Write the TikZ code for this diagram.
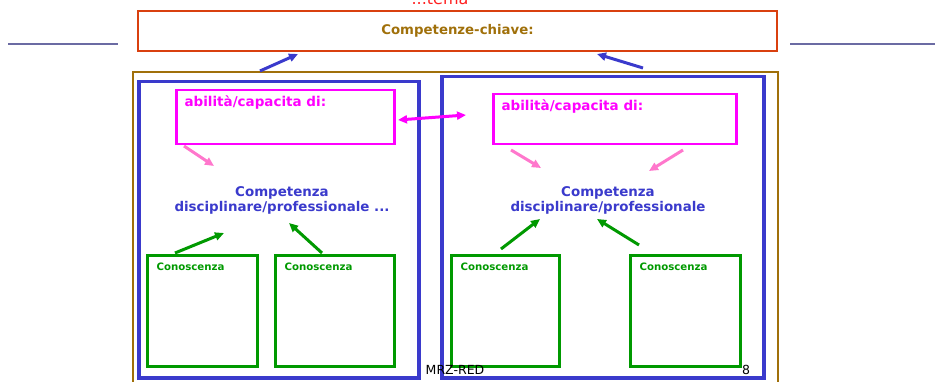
\documentclass[tikz,border=0pt]{standalone}
\usepackage{fontspec}
\setmainfont{DejaVu Sans}
\usetikzlibrary{arrows.meta}

\definecolor{temared}{HTML}{FF2020}
\definecolor{keyred}{HTML}{D9400F}
\definecolor{keybrown}{HTML}{A0700A}
\definecolor{compblue}{HTML}{3A3ACC}
\definecolor{abilmag}{HTML}{FF00FF}
\definecolor{abilpink}{HTML}{FF77CC}
\definecolor{conogreen}{HTML}{009900}
\definecolor{rulegray}{HTML}{6B6BA3}

\tikzset{
	box/.style={draw, rectangle, inner sep=0pt, anchor=north west},
	keybox/.style={box, keyred, line width=2pt},
	themebox/.style={box, keybrown, line width=2pt},
	compbox/.style={box, compblue, line width=3.5pt},
	abilbox/.style={box, abilmag, line width=2.5pt},
	conobox/.style={box, conogreen, line width=2.5pt},
	tip/.style={-{Triangle[length=9pt,width=8pt]}, line width=3pt},
}

\begin{document}
\begin{tikzpicture}[x=1pt, y=-1pt, font=\bfseries]
	\useasboundingbox (0,0) rectangle (944,382);

	% title and rules
	\node[temared, anchor=base, font=\fontsize{16}{18}\selectfont] (tema) at (440,5) {...tema};
	\draw[rulegray, line width=2.5pt] (8,44) -- (118,44);
	\draw[rulegray, line width=2.5pt] (790,44) -- (935,44);

	\node[keybox, minimum width=639pt, minimum height=40pt] (chiave) at (137,10) {};
	\node[keybrown, font=\bfseries\fontsize{13.3}{15}\selectfont] (chiavetxt) at (chiave.center) {Competenze-chiave:};

	% frames
	\node[themebox, minimum width=645pt, minimum height=330pt] (frame) at (132,71) {};
	\node[compbox, minimum width=280pt, minimum height=296pt] (left) at (137,80) {};
	\node[compbox, minimum width=322pt, minimum height=301pt] (right) at (440,75) {};

	% abilities
	\node[abilbox, minimum width=218pt, minimum height=54pt] (abilL) at (175,89) {};
	\node[abilbox, minimum width=243pt, minimum height=50pt] (abilR) at (492,93) {};
	\node[abilmag, anchor=north west, font=\bfseries\fontsize{13.5}{15}\selectfont] (abilLtxt) at ([shift={(6pt,-3pt)}]abilL.north west) {abilità/capacita di:};
	\node[abilmag, anchor=north west, font=\bfseries\fontsize{13.5}{15}\selectfont] (abilRtxt) at ([shift={(6pt,-3pt)}]abilR.north west) {abilità/capacita di:};

	% competences
	\node[compblue, align=center, font=\bfseries\fontsize{13.4}{15}\selectfont] (compL) at (282,200) {Competenza\\disciplinare/professionale ...};
	\node[compblue, align=center, font=\bfseries\fontsize{13.4}{15}\selectfont] (compR) at (608,200) {Competenza\\disciplinare/professionale};

	% knowledge
	\node[conobox, minimum width=110pt, minimum height=111pt] (conoA) at (146,254) {};
	\node[conobox, minimum width=119pt, minimum height=111pt] (conoB) at (274,254) {};
	\node[conobox, minimum width=108pt, minimum height=111pt] (conoC) at (450,254) {};
	\node[conobox, minimum width=110pt, minimum height=111pt] (conoD) at (629,254) {};
	\foreach \c in {A,B,C,D}
		\node[conogreen, anchor=north west, font=\bfseries\fontsize{10.2}{11}\selectfont] (cono\c txt) at ([shift={(7pt,-5pt)}]cono\c.north west) {Conoscenza};

	% footer
	\node[anchor=base, font=\mdseries\fontsize{12.5}{14}\selectfont] (mrz) at (455,374) {MRZ-RED};
	\node[anchor=base, font=\mdseries\fontsize{12.5}{14}\selectfont] (page) at (746,374) {8};

	% arrow ends
	\coordinate (keyA0) at (260,71);  \coordinate (keyA1) at (298,54);
	\coordinate (keyB0) at (643,68);  \coordinate (keyB1) at (597,54);
	\coordinate (abil0) at (398,120); \coordinate (abil1) at (466,115);
	\coordinate (pinkA0) at (184,146); \coordinate (pinkA1) at (214,166);
	\coordinate (pinkB0) at (511,150); \coordinate (pinkB1) at (541,168);
	\coordinate (pinkC0) at (683,150); \coordinate (pinkC1) at (649,171);
	\coordinate (grnA0) at (175,253); \coordinate (grnA1) at (224,233);
	\coordinate (grnB0) at (322,253); \coordinate (grnB1) at (289,223);
	\coordinate (grnC0) at (501,249); \coordinate (grnC1) at (540,219);
	\coordinate (grnD0) at (639,245); \coordinate (grnD1) at (597,219);

	\draw[tip, compblue] (keyA0) -- (keyA1);
	\draw[tip, compblue] (keyB0) -- (keyB1);
	\draw[tip, abilmag, {Triangle[length=9pt,width=8pt]}-{Triangle[length=9pt,width=8pt]}] (abil0) -- (abil1);
	\foreach \p in {A,B,C}
		\draw[tip, abilpink] (pink\p0) -- (pink\p1);
	\foreach \g in {A,B,C,D}
		\draw[tip, conogreen] (grn\g0) -- (grn\g1);
\end{tikzpicture}
\end{document}
